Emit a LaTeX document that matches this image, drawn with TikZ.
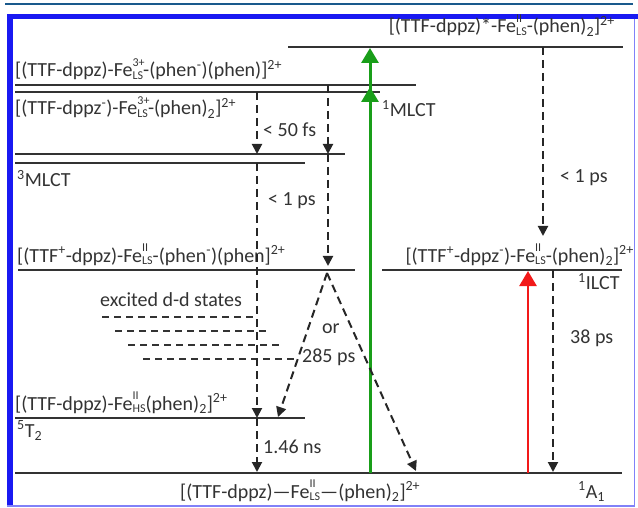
\documentclass[tikz,border=0pt]{standalone}
\usepackage{fontspec}
\setmainfont{Carlito}
\usetikzlibrary{arrows.meta}
\definecolor{frame}{rgb}{0.1,0.1,0.95}
\definecolor{rule}{rgb}{0.1,0.35,0.55}
\definecolor{pump}{rgb}{0.1,0.62,0.1}
\definecolor{ilct}{rgb}{0.95,0.1,0.1}
\definecolor{ink}{gray}{0.2}
% oxidation state over spin state
\newcommand{\Fe}[2]{Fe\makebox[0pt][l]{\raisebox{1.05ex}{\fontsize{12}{12}\selectfont #1}}\raisebox{-0.3ex}{\fontsize{12}{12}\selectfont #2}}
\newcommand{\up}[1]{\textsuperscript{#1}}
\newcommand{\dn}[1]{\textsubscript{#1}}

\tikzset{
  level/.style={ink,line width=2},
  ddlevel/.style={ink,line width=2,dash pattern=on 7pt off 5pt},
  decay/.style={black!85,line width=2,dash pattern=on 8pt off 5pt,-{Triangle[length=10pt,width=10pt]}},
  excite/.style={line width=3,-{Triangle[length=15pt,width=17pt]}},
  lbl/.style={ink,inner sep=0,anchor=base west},
}

\begin{document}
\begin{tikzpicture}[x=1pt,y=-1pt,font=\fontsize{20}{24}\selectfont]
    \useasboundingbox (0,0) rectangle (638,508);
    % frame
    \draw[rule,line width=1.8] (5,4) -- (633,4);
    \fill[frame] (7,14) rectangle (638,19);
    \fill[frame] (7,14) rectangle (12.5,506);
    \draw[frame!55,line width=1.5] (634.5,19) -- (634.5,506) -- (7,506);

    % energy levels
    \draw[level] (288,47) -- (623,47);
    \draw[level] (15,85) -- (416,85);
    \draw[level] (15,92) -- (380,92);
    \draw[level] (15,154) -- (345,154);
    \draw[level] (15,163) -- (305,163);
    \draw[level] (18,270) -- (355,270);
    \draw[level] (382,270) -- (622,270);
    \draw[level] (15,418) -- (305,418);
    \draw[level] (15,473) -- (622,473);
    \draw[ddlevel] (102,317) -- (257,317);
    \draw[ddlevel] (115,331) -- (268,331);
    \draw[ddlevel] (128,345) -- (283,345);
    \draw[ddlevel] (143,359) -- (297,359);

    % level labels
    \node[lbl,anchor=base east] (lstar) at (615,33) {[(TTF-dppz)*-\Fe{II}{LS}-(phen)\dn{2}]\up{2+}};
    \node[lbl] (lfe3a) at (15,77) {[(TTF-dppz)-\Fe{3+}{LS}-(phen\up{-})(phen)]\up{2+}};
    \node[lbl] (lfe3b) at (15,115) {[(TTF-dppz\up{-})-\Fe{3+}{LS}-(phen)\dn{2}]\up{2+}};
    \node[lbl] (lmlct3) at (17,187) {\up{3}MLCT};
    \node[lbl] (lmlct1) at (382,117) {\up{1}MLCT};
    \node[lbl] (lcs) at (17,262) {[(TTF\up{+}-dppz)-\Fe{II}{LS}-(phen\up{-})(phen]\up{2+}};
    \node[lbl,anchor=base east] (lilct) at (634,262) {[(TTF\up{+}-dppz\up{-})-\Fe{II}{LS}-(phen)\dn{2}]\up{2+}};
    \node[lbl] (lilct1) at (578,290) {\up{1}ILCT};
    \node[lbl] (ldd) at (100,306) {excited d-d states};
    \node[lbl] (lhs) at (15,410) {[(TTF-dppz)-\Fe{II}{HS}(phen)\dn{2}]\up{2+}};
    \node[lbl] (lt2) at (17,437) {\up{5}T\dn{2}};
    \node[lbl] (lgs) at (180,498) {[(TTF-dppz)---\Fe{II}{LS}---(phen)\dn{2}]\up{2+}};
    \node[lbl] (la1) at (578,498) {\up{1}A\dn{1}};

    % time constants
    \node[lbl] (t50fs) at (263,137) {< 50 fs};
    \node[lbl] (t1psa) at (268,206) {< 1 ps};
    \node[lbl] (t1psb) at (560,183) {< 1 ps};
    \node[lbl] (tor) at (322,333) {or};
    \node[lbl] (t285) at (302,362) {285 ps};
    \node[lbl] (t38) at (570,343) {38 ps};
    \node[lbl] (t146) at (263,453) {1.46 ns};

    % arrow ends
    \coordinate (gA) at (370,473);  \coordinate (gB) at (370,48);   \coordinate (gC) at (370,87);
    \coordinate (rA) at (528,473);  \coordinate (rB) at (528,271);
    \coordinate (dA) at (257,92);   \coordinate (dB) at (257,154);
    \coordinate (dC) at (257,163);  \coordinate (dD) at (257,418);  \coordinate (dE) at (257,472);
    \coordinate (eA) at (328,85);   \coordinate (eB) at (328,154);  \coordinate (eC) at (328,266);
    \coordinate (apex) at (327,273);
    \coordinate (fA) at (278,417);  \coordinate (fB) at (416,471);
    \coordinate (hA) at (543,47);   \coordinate (hB) at (543,236);
    \coordinate (iA) at (553,270);  \coordinate (iB) at (553,472);

    % excitation
    \draw[excite,pump] (gA) -- (gB);
    \draw[excite,pump] (gA) -- (gC);
    \draw[excite,ilct,line width=2.5] (rA) -- (rB);

    % relaxation
    \draw[decay] (dA) -- (dB);
    \draw[decay] (dC) -- (dD);
    \draw[decay] (dD) -- (dE);
    \draw[decay] (eA) -- (eB);
    \draw[decay] (eB) -- (eC);
    \draw[decay] (apex) -- (fA);
    \draw[decay] (apex) -- (fB);
    \draw[decay] (hA) -- (hB);
    \draw[decay] (iA) -- (iB);
\end{tikzpicture}
\end{document}
